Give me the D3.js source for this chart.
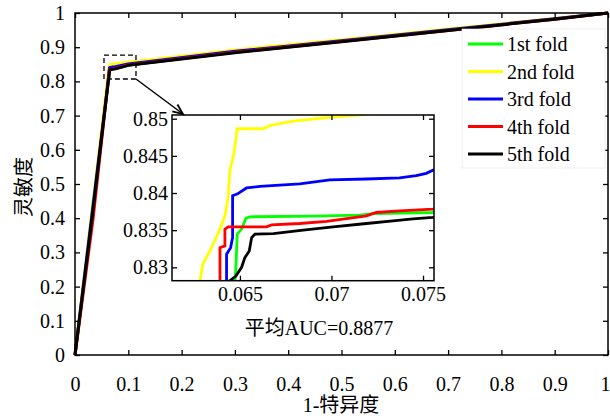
<!DOCTYPE html>
<html>
<head>
<meta charset="utf-8">
<script src="https://cdn.jsdelivr.net/npm/d3@7"></script>
<style>
body{margin:0;background:#fff;}
svg{display:block;}
text{font-family:"Liberation Serif","Times New Roman","Noto Sans CJK SC",serif;fill:#000;}
</style>
</head>
<body>
<svg id="chart" width="610" height="419"></svg>
<script>
// ---- data ----
var foldNames = ['1st fold', '2nd fold', '3rd fold', '4th fold', '5th fold'];
var foldColors = ['#00ff00', '#ffff00', '#0000ff', '#ff0000', '#000000'];

var fold1 = [[0,0],[0.031,0.40],[0.0646,0.826],[0.06473,0.8282],[0.06478,0.83],[0.06485,0.83446],[0.06509,0.83514],
  [0.06533,0.83662],[0.06555,0.8368],[0.069,0.83689],[0.07154,0.83703],[0.07227,0.83724],[0.07554,0.83738],
  [0.1,0.848],[0.3,0.886],[0.5,0.918],[0.7,0.95],[0.9,0.983],[1,1]];
var fold2 = [[0,0],[0.03,0.40],[0.0627,0.826],[0.06282,0.8282],[0.06297,0.83041],[0.06336,0.8322],[0.06387,0.83491],
  [0.06418,0.83693],[0.06436,0.83941],[0.06445,0.84301],[0.06467,0.84527],[0.06485,0.84865],[0.06627,0.84865],
  [0.06664,0.84909],[0.06791,0.84968],[0.06918,0.85],[0.07,0.85022],
  [0.1,0.856],[0.3,0.892],[0.5,0.922],[0.7,0.953],[0.9,0.984],[1,1]];
var fold3 = [[0,0],[0.031,0.40],[0.0642,0.826],[0.06427,0.8282],[0.06427,0.83176],[0.06449,0.83265],[0.0646,0.834],
  [0.0646,0.83964],[0.06485,0.83986],[0.06536,0.84068],[0.06609,0.8409],[0.06827,0.84122],[0.06991,0.84176],
  [0.07191,0.84189],[0.07372,0.84203],[0.07463,0.84234],[0.07518,0.84265],[0.07558,0.84311],
  [0.1,0.851],[0.3,0.888],[0.5,0.919],[0.7,0.951],[0.9,0.983],[1,1]];
var fold4 = [[0,0],[0.034,0.40],[0.0639,0.826],[0.06391,0.8282],[0.06391,0.83265],[0.06418,0.83288],[0.06418,0.83514],
  [0.06436,0.83545],[0.06645,0.83545],[0.06673,0.83572],[0.06827,0.8359],[0.06973,0.83617],[0.07191,0.83693],
  [0.07245,0.83738],[0.07372,0.83761],[0.07554,0.83784],
  [0.1,0.848],[0.3,0.885],[0.5,0.917],[0.7,0.949],[0.9,0.982],[1,1]];
var fold5 = [[0,0],[0.032,0.40],[0.0644,0.826],[0.06445,0.8282],[0.06478,0.82882],[0.06509,0.83],[0.06527,0.8313],
  [0.06551,0.8322],[0.06564,0.834],[0.06582,0.83446],[0.06682,0.83454],[0.06845,0.835],[0.07009,0.83545],
  [0.07191,0.8359],[0.07336,0.83626],[0.07445,0.83653],[0.07554,0.83671],
  [0.1,0.847],[0.3,0.884],[0.5,0.916],[0.7,0.949],[0.9,0.982],[1,1]];
var folds = [fold1, fold2, fold3, fold4, fold5];

var mainTicks = [0,0.1,0.2,0.3,0.4,0.5,0.6,0.7,0.8,0.9,1];
var insetXTicks = [0.065, 0.07, 0.075];
var insetYTicks = [0.83, 0.835, 0.84, 0.845, 0.85];
var insetXDomain = [0.06129, 0.0756];
var insetYDomain = [0.8282, 0.8505];
var zoomBox = {x0: 0.0544, x1: 0.1144, y0: 0.807, y1: 0.877}; // dashed region in main axes
var aucLabel = '平均AUC=0.8877';

var svg = d3.select('#chart');

// ---- main axes ----
var x = d3.scaleLinear().domain([0, 1]).range([75, 608]);
var y = d3.scaleLinear().domain([0, 1]).range([355, 13]);

function frame(g, xs, ys, xt, yt, fmtX, fmtY, padX, padY){
    var r0 = xs.range(), r1 = ys.range();
    g.append('g').attr('class', 'xb').attr('transform', 'translate(0,' + r1[0] + ')')
        .call(d3.axisBottom(xs).tickValues(xt).tickSize(-5).tickSizeOuter(0).tickPadding(padX).tickFormat(fmtX));
    g.append('g').attr('transform', 'translate(0,' + r1[1] + ')')
        .call(d3.axisTop(xs).tickValues(xt).tickSize(-5).tickSizeOuter(0).tickFormat(''));
    g.append('g').attr('transform', 'translate(' + r0[0] + ',0)')
        .call(d3.axisLeft(ys).tickValues(yt).tickSize(-5).tickSizeOuter(0).tickPadding(padY).tickFormat(fmtY));
    g.append('g').attr('transform', 'translate(' + r0[1] + ',0)')
        .call(d3.axisRight(ys).tickValues(yt).tickSize(-5).tickSizeOuter(0).tickFormat(''));
    g.selectAll('.domain').remove();
    g.selectAll('.tick line').attr('stroke', '#000').attr('stroke-width', 1.3);
    g.selectAll('.tick text').attr('font-size', '20px').attr('fill', '#000');
    g.append('rect')
        .attr('x', r0[0]).attr('y', r1[1])
        .attr('width', r0[1] - r0[0]).attr('height', r1[0] - r1[1])
        .attr('fill', 'none').attr('stroke', '#000').attr('stroke-width', 1.5);
}

var mainLine = d3.line().x(function(d){return x(d[0])}).y(function(d){return y(d[1])});
svg.append('g').selectAll('path')
    .data(folds)
    .enter()
    .append('path')
    .attr('d', mainLine)
    .attr('fill', 'none')
    .attr('stroke', function(d, i){return foldColors[i]})
    .attr('stroke-width', 3)
    .attr('stroke-linejoin', 'round');

var mainG = svg.append('g');
frame(mainG, x, y, mainTicks, mainTicks, d3.format('~g'), d3.format('~g'), 22, 10);
// keep the last x label inside the window
mainG.selectAll('.xb .tick text').filter(function(d){return d === 1}).attr('dx', -3);

// axis titles
svg.append('text')
    .attr('x', 341).attr('y', 412)
    .attr('text-anchor', 'middle')
    .attr('font-size', '20px')
    .text('1-特异度');
svg.append('text')
    .attr('transform', 'translate(31,187) rotate(-90)')
    .attr('text-anchor', 'middle')
    .attr('font-size', '20px')
    .text('灵敏度');

// ---- dashed zoom box ----
svg.append('rect')
    .attr('x', x(zoomBox.x0)).attr('y', y(zoomBox.y1))
    .attr('width', x(zoomBox.x1) - x(zoomBox.x0))
    .attr('height', y(zoomBox.y0) - y(zoomBox.y1))
    .attr('fill', 'none').attr('stroke', '#000')
    .attr('stroke-width', 1.3).attr('stroke-dasharray', '5,3');

// ---- inset ----
var ix = d3.scaleLinear().domain(insetXDomain).range([172, 434]);
var iy = d3.scaleLinear().domain(insetYDomain).range([280.7, 115]);

svg.append('defs').append('clipPath').attr('id', 'insetClip')
    .append('rect').attr('x', 172).attr('y', 115).attr('width', 262).attr('height', 165.7);

svg.append('rect').attr('x', 172).attr('y', 115).attr('width', 262).attr('height', 165.7).attr('fill', '#fff');

var insetLine = d3.line().x(function(d){return ix(d[0])}).y(function(d){return iy(d[1])});
svg.append('g').attr('clip-path', 'url(#insetClip)').selectAll('path')
    .data(folds)
    .enter()
    .append('path')
    .attr('d', insetLine)
    .attr('fill', 'none')
    .attr('stroke', function(d, i){return foldColors[i]})
    .attr('stroke-width', 2.8);

var insetG = svg.append('g');
frame(insetG, ix, iy, insetXTicks, insetYTicks, d3.format('~g'), d3.format('~g'), 6, 4);

svg.append('text')
    .attr('x', 319).attr('y', 335)
    .attr('text-anchor', 'middle')
    .attr('font-size', '20px')
    .text(aucLabel);

// arrow from the dashed box to the inset
var ax0 = x(zoomBox.x1), ay0 = y(zoomBox.y0), ax1 = 183, ay1 = 114;
svg.append('line')
    .attr('x1', ax0).attr('y1', ay0).attr('x2', ax1).attr('y2', ay1)
    .attr('stroke', '#000').attr('stroke-width', 1.5);
var ang = Math.atan2(ay1 - ay0, ax1 - ax0), hl = 11, hw = 0.4;
svg.append('path')
    .attr('d', 'M' + (ax1 - hl*Math.cos(ang - hw)) + ',' + (ay1 - hl*Math.sin(ang - hw)) +
               'L' + ax1 + ',' + ay1 +
               'L' + (ax1 - hl*Math.cos(ang + hw)) + ',' + (ay1 - hl*Math.sin(ang + hw)))
    .attr('fill', 'none').attr('stroke', '#000').attr('stroke-width', 1.8);

// ---- legend ----
var legend = svg.append('g');
legend.append('rect')
    .attr('x', 462).attr('y', 29).attr('width', 143).attr('height', 139)
    .attr('fill', '#fff').attr('stroke', '#e4e4e4').attr('stroke-width', 0.6);
var items = legend.selectAll('g.item')
    .data(foldNames)
    .enter()
    .append('g')
    .attr('class', 'item')
    .attr('transform', function(d, i){return 'translate(0,' + (44 + i*27.5) + ')'});
items.append('line')
    .attr('x1', 468).attr('x2', 503)
    .attr('stroke', function(d, i){return foldColors[i]})
    .attr('stroke-width', 3);
items.append('text')
    .attr('x', 507).attr('dy', '0.35em')
    .attr('font-size', '20px')
    .text(function(d){return d});
</script>
</body>
</html>
